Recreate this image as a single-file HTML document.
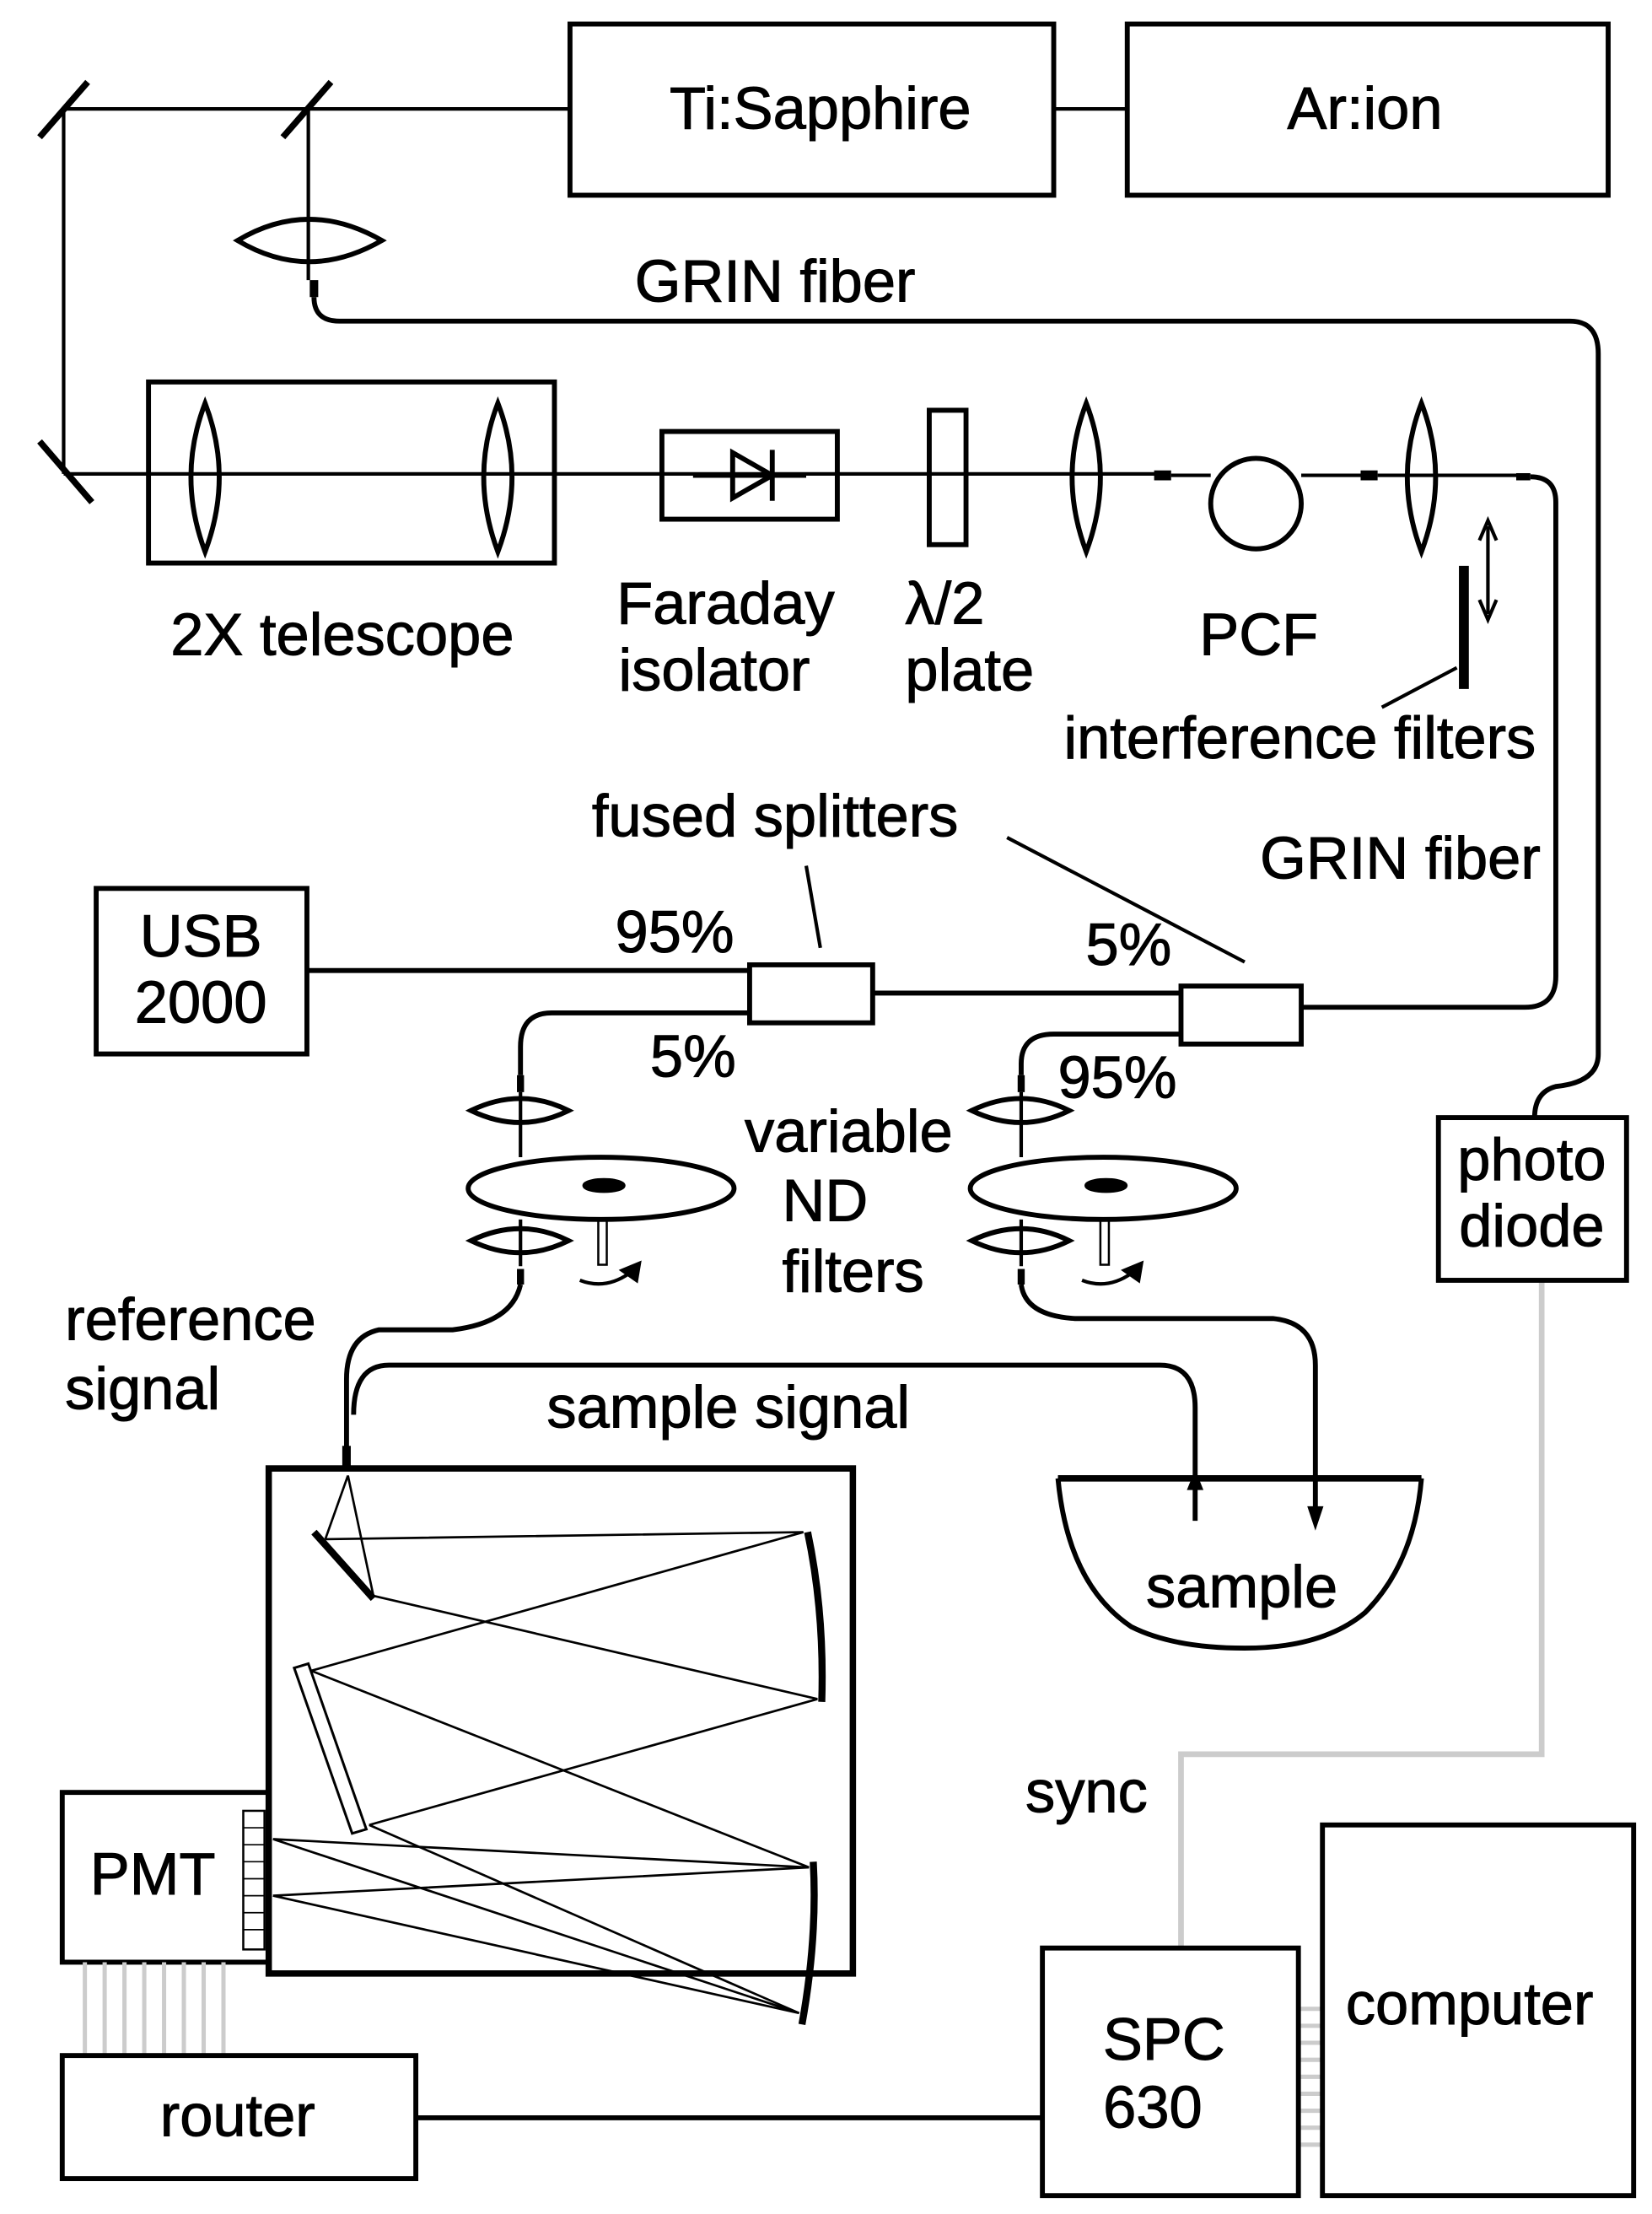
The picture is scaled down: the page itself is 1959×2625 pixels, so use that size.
<!DOCTYPE html>
<html><head><meta charset="utf-8"><style>
html,body{margin:0;padding:0;background:#fff}
svg{display:block}
text{font-family:"Liberation Sans",Arial,sans-serif;font-size:42px;fill:#000;stroke:#000;stroke-width:0.6}
</style></head><body>
<svg width="1959" height="2625" viewBox="0 0 1168 1565" preserveAspectRatio="none" xmlns="http://www.w3.org/2000/svg">
<g fill="none" stroke="#000" stroke-width="2.5">
<rect x="403" y="17" width="342" height="121" stroke-width="3.5"/>
<rect x="797" y="17" width="340" height="121" stroke-width="3.5"/>
<line x1="745" y1="77" x2="797" y2="77"/>
<line x1="45" y1="77" x2="403" y2="77"/>
<line x1="28" y1="97" x2="62" y2="58" stroke-width="4.5"/>
<line x1="200" y1="97" x2="234" y2="58" stroke-width="4.5"/>
<line x1="45" y1="77" x2="45" y2="335"/>
<line x1="28" y1="312" x2="65" y2="355" stroke-width="4.5"/>
<line x1="218" y1="77" x2="218" y2="198"/>
<path d="M168,170 Q218,140 270,170 Q218,200 168,170Z" stroke-width="3.5"/>
<line x1="222" y1="198" x2="222" y2="210" stroke-width="6"/>
<path d="M222,210 Q222,227 240,227 L1110,227 Q1130,227 1130,250 L1130,745 Q1130,765 1100,768 Q1085,772 1085,790" stroke-width="3.5"/>
<line x1="45" y1="335" x2="820" y2="335"/>
<rect x="105" y="270" width="287" height="128" stroke-width="3.5"/>
<path d="M145,285 Q125,337 145,390 Q165,337 145,285Z" stroke-width="3.5"/>
<path d="M352,285 Q332,337 352,390 Q372,337 352,285Z" stroke-width="3.5"/>
<rect x="468" y="305" width="124" height="62" stroke-width="3.5"/>
<line x1="490" y1="336" x2="570" y2="336" stroke-width="3.5"/>
<path d="M518,320 L518,352 L546,336Z" stroke-width="3.5"/>
<line x1="546" y1="318" x2="546" y2="354" stroke-width="3.5"/>
<rect x="657" y="290" width="26" height="95" stroke-width="3.5"/>
<path d="M768,285 Q748,337 768,390 Q788,337 768,285Z" stroke-width="3.5"/>
<line x1="816" y1="336" x2="828" y2="336" stroke-width="7"/>
<path d="M828,336 L856,336 M920,336 L962,336"/>
<circle cx="888" cy="356" r="32" stroke-width="3.5"/>
<line x1="962" y1="336" x2="974" y2="336" stroke-width="7"/>
<line x1="974" y1="336" x2="1080" y2="336"/>
<path d="M1005,285 Q985,337 1005,390 Q1025,337 1005,285Z" stroke-width="3.5"/>
<line x1="1072" y1="337" x2="1082" y2="337" stroke-width="5"/>
<path d="M1082,337 Q1100,337 1100,355 L1100,690 Q1100,712 1078,712 L920,712" stroke-width="3.5"/>
<line x1="1035" y1="400" x2="1035" y2="487" stroke-width="7"/>
<line x1="1052" y1="372" x2="1052" y2="434"/>
<path d="M1046,382 L1052,368 L1058,382 M1046,424 L1052,438 L1058,424"/>
<line x1="1030" y1="472" x2="977" y2="500"/>
<line x1="570" y1="612" x2="580" y2="670"/>
<line x1="712" y1="592" x2="880" y2="680"/>
<rect x="68" y="628" width="149" height="117" stroke-width="3.5"/>
<line x1="217" y1="686" x2="530" y2="686" stroke-width="3.5"/>
<rect x="530" y="682" width="87" height="41" stroke-width="3.5"/>
<rect x="835" y="697" width="85" height="41" stroke-width="3.5"/>
<line x1="617" y1="702" x2="835" y2="702" stroke-width="3.5"/>
<path d="M530,716 L390,716 Q368,716 368,740 L368,760" stroke-width="3.5"/>
<path d="M835,731 L745,731 Q722,731 722,752 L722,760" stroke-width="3.5"/>
<line x1="368" y1="760" x2="368" y2="772" stroke-width="5"/>
<path d="M333,785 Q368,768 402,785 Q368,802 333,785Z" stroke-width="3.5"/>
<path d="M333,877 Q368,860 402,877 Q368,894 333,877Z" stroke-width="3.5"/>
<ellipse cx="425" cy="840" rx="94" ry="22" fill="#fff" stroke-width="3.5"/>
<line x1="368" y1="772" x2="368" y2="818"/>
<line x1="368" y1="862" x2="368" y2="895"/>
<ellipse cx="427" cy="838" rx="14" ry="4" fill="#000"/>
<rect x="423" y="862" width="6" height="32" stroke-width="1.5"/>
<path d="M410,905 Q428,912 445,900"/><path d="M440,898 L452,893 L450,905Z" fill="#000"/>
<line x1="722" y1="760" x2="722" y2="772" stroke-width="5"/>
<path d="M687,785 Q722,768 756,785 Q722,802 687,785Z" stroke-width="3.5"/>
<path d="M687,877 Q722,860 756,877 Q722,894 687,877Z" stroke-width="3.5"/>
<ellipse cx="780" cy="840" rx="94" ry="22" fill="#fff" stroke-width="3.5"/>
<line x1="722" y1="772" x2="722" y2="818"/>
<line x1="722" y1="862" x2="722" y2="895"/>
<ellipse cx="782" cy="838" rx="14" ry="4" fill="#000"/>
<rect x="778" y="862" width="6" height="32" stroke-width="1.5"/>
<path d="M765,905 Q783,912 800,900"/><path d="M795,898 L807,893 L805,905Z" fill="#000"/>
<line x1="368" y1="897" x2="368" y2="908" stroke-width="5"/>
<path d="M368,908 Q362,935 320,940 L268,940 Q245,945 245,975 L245,1030" stroke-width="3.5"/>
<line x1="245" y1="1022" x2="245" y2="1040" stroke-width="6"/>
<line x1="722" y1="897" x2="722" y2="908" stroke-width="5"/>
<path d="M722,908 Q725,930 760,932 L900,932 Q930,935 930,965 L930,1070" stroke-width="3.5"/>
<path d="M926,1066 L930,1078 L934,1066Z" fill="#000"/>
<path d="M250,1000 Q250,965 275,965 L820,965 Q845,965 845,995 L845,1075" stroke-width="3.5"/>
<path d="M841,1052 L845,1042 L849,1052Z" fill="#000"/>
<line x1="748" y1="1045" x2="1005" y2="1045" stroke-width="4.5"/>
<path d="M748,1045 Q755,1120 800,1150 Q830,1165 880,1165 Q935,1165 965,1140 Q1000,1105 1005,1045" stroke-width="3.5"/>
<rect x="190" y="1038" width="413" height="357" stroke-width="4.5"/>
<line x1="222" y1="1083" x2="264" y2="1130" stroke-width="5"/>
<path d="M571,1083 Q583,1140 581,1203" stroke-width="5"/>
<polygon points="208,1179 218,1176 259,1293 249,1296" stroke-width="1.8"/>
<path d="M575,1316 Q578,1370 567,1431" stroke-width="5"/>
<g stroke-width="1.6">
<path d="M246,1043 L230,1088 M246,1043 L264,1128"/>
<path d="M230,1088 L568,1083 M264,1128 L578,1201"/>
<path d="M568,1083 L220,1181 M578,1201 L261,1290"/>
<path d="M220,1181 L572,1320 M261,1290 L565,1423"/>
<path d="M572,1320 L193,1300 M572,1320 L193,1340 M565,1423 L193,1300 M565,1423 L193,1340"/>
</g>
<rect x="44" y="1267" width="146" height="120" stroke-width="3.5"/>
<rect x="172" y="1280" width="15" height="98" stroke-width="1.5"/>
<path d="M172,1292 H187 M172,1304 H187 M172,1316 H187 M172,1328 H187 M172,1340 H187 M172,1352 H187 M172,1364 H187" stroke-width="1"/>
<g stroke="#ccc" stroke-width="3">
<path d="M60,1387V1453 M74,1387V1453 M88,1387V1453 M102,1387V1453 M116,1387V1453 M130,1387V1453 M144,1387V1453 M158,1387V1453"/>
<path d="M918,1420H935 M918,1432H935 M918,1444H935 M918,1456H935 M918,1468H935 M918,1480H935 M918,1492H935 M918,1504H935 M918,1516H935"/>
<path d="M1090,905 L1090,1240 L835,1240 L835,1377" stroke-width="4"/>
</g>
<rect x="44" y="1453" width="250" height="87" stroke-width="3.5"/>
<line x1="294" y1="1497" x2="737" y2="1497" stroke-width="3.5"/>
<rect x="737" y="1377" width="181" height="175" stroke-width="3.5"/>
<rect x="935" y="1290" width="220" height="262" stroke-width="3.5"/>
<rect x="1017" y="790" width="133" height="115" stroke-width="3.5"/>
</g>
<text x="580" y="91" text-anchor="middle">Ti:Sapphire</text>
<text x="965" y="91" text-anchor="middle">Ar:ion</text>
<text x="548" y="213" text-anchor="middle">GRIN fiber</text>
<text x="242" y="463" text-anchor="middle">2X telescope</text>
<text x="513" y="441" text-anchor="middle">Faraday</text>
<text x="505" y="488" text-anchor="middle">isolator</text>
<text x="640" y="441">λ/2</text>
<text x="640" y="488">plate</text>
<text x="890" y="463" text-anchor="middle">PCF</text>
<text x="919" y="536" text-anchor="middle">interference filters</text>
<text x="548" y="591" text-anchor="middle">fused splitters</text>
<text x="990" y="621" text-anchor="middle">GRIN fiber</text>
<text x="142" y="676" text-anchor="middle">USB</text>
<text x="142" y="723" text-anchor="middle">2000</text>
<text x="477" y="673" text-anchor="middle">95%</text>
<text x="798" y="682" text-anchor="middle">5%</text>
<text x="490" y="761" text-anchor="middle">5%</text>
<text x="790" y="776" text-anchor="middle">95%</text>
<text x="600" y="814" text-anchor="middle">variable</text>
<text x="553" y="863">ND</text>
<text x="553" y="913">filters</text>
<text x="1083" y="834" text-anchor="middle">photo</text>
<text x="1083" y="881" text-anchor="middle">diode</text>
<text x="46" y="947">reference</text>
<text x="46" y="996">signal</text>
<text x="515" y="1009" text-anchor="middle">sample signal</text>
<text x="878" y="1136" text-anchor="middle">sample</text>
<text x="725" y="1281">sync</text>
<text x="108" y="1339" text-anchor="middle">PMT</text>
<text x="168" y="1510" text-anchor="middle">router</text>
<text x="823" y="1456" text-anchor="middle">SPC</text>
<text x="815" y="1504" text-anchor="middle">630</text>
<text x="1039" y="1431" text-anchor="middle">computer</text>
</svg>
</body></html>
